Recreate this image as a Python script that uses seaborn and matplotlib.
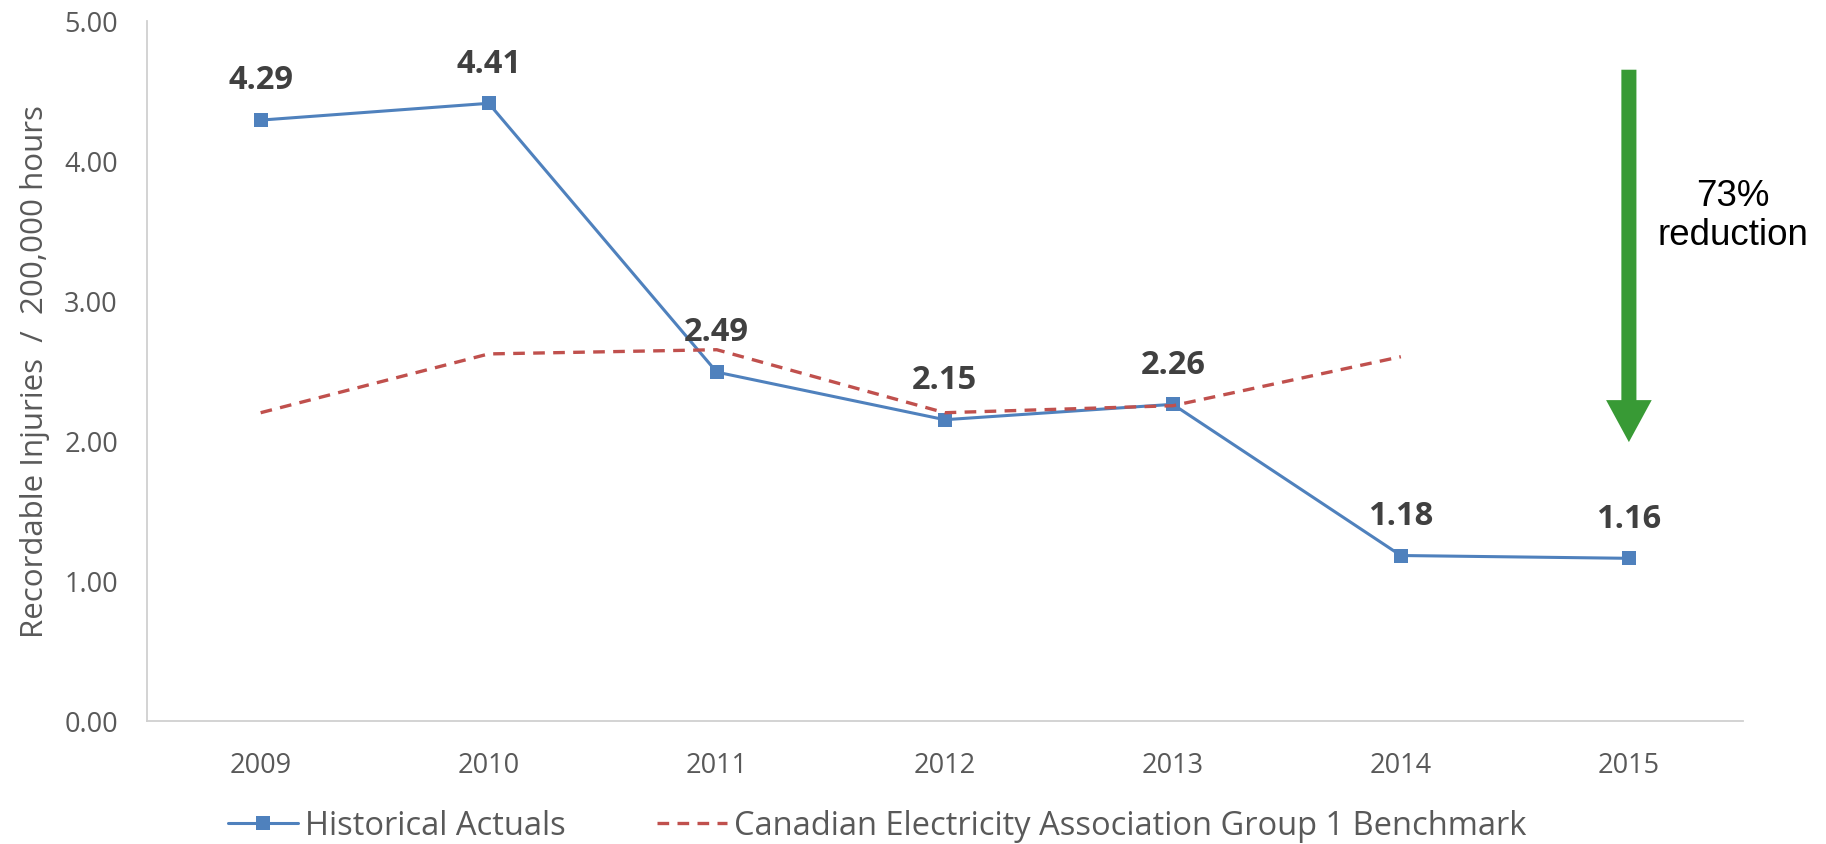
import numpy as np
import pandas as pd
import seaborn as sns
import matplotlib.pyplot as plt

years = ["2009", "2010", "2011", "2012", "2013", "2014", "2015"]
actuals = [4.29, 4.41, 2.49, 2.15, 2.26, 1.18, 1.16]
benchmark = [2.20, 2.62, 2.65, 2.20, 2.25, 2.60, np.nan]
y_ticks = [0, 1, 2, 3, 4, 5]
actual_label = "Historical Actuals"
bench_label = "Canadian Electricity Association Group 1 Benchmark"
y_title = "Recordable Injuries  /  200,000 hours"
reduction_text = "73%\nreduction"
arrow_from, arrow_to = 4.65, 1.99

sns.set_theme(style="white")
plt.rcParams["font.family"] = ["Open Sans", "DejaVu Sans"]

df = pd.DataFrame({"pos": np.arange(len(years)), "year": years,
                   "actual": actuals, "bench": benchmark})

fig = plt.figure(figsize=(18.26, 8.45), dpi=100)
ax = fig.add_axes([0.0803, 0.1459, 0.8742, 0.8284])

sns.lineplot(data=df, x="pos", y="actual", ax=ax, color="#4F81BD", linewidth=2.2,
             marker="s", markersize=10, markeredgewidth=0, label=actual_label, zorder=3)
sns.lineplot(data=df.dropna(), x="pos", y="bench", ax=ax, color="#C0504D", linewidth=2.4,
             linestyle=(0, (3.5, 2.5)), label=bench_label, zorder=4)

# data labels above the actuals
for p, v in zip(df["pos"], df["actual"]):
    ax.annotate("{:.2f}".format(v), xy=(p, v), xytext=(0, 29), textcoords="offset points",
                ha="center", va="center", fontsize=23.5, fontweight="bold", color="#404040", zorder=6)

# green reduction arrow
last = df["pos"].iloc[-1]
ax.arrow(last, arrow_from, 0, arrow_to - arrow_from, width=0.066, head_width=0.2,
         head_length=0.30, length_includes_head=True, color="#389A35", lw=0, zorder=5)
ax.text(last + 0.455, (arrow_from + arrow_to) / 2 + 0.29, reduction_text, ha="center", va="center",
        fontsize=26.5, family="Liberation Sans", color="black", linespacing=1.15, clip_on=False)

ax.set_xlim(-0.5, len(years) - 0.5)
ax.set_ylim(0, 5)
ax.set_xticks(df["pos"], labels=df["year"])
ax.set_xticks(np.arange(-0.5, len(years), 1), minor=True)
ax.set_yticks(y_ticks, labels=["{:.2f}".format(t) for t in y_ticks])
ax.set_xlabel("")
ax.set_ylabel(y_title, fontsize=22.5, color="#595959")
ax.yaxis.set_label_coords(-0.0605, 0.5)

ax.tick_params(axis="x", which="major", length=0, pad=21.5, labelsize=19.5, labelcolor="#595959")
ax.tick_params(axis="x", which="minor", direction="out", length=6.5, width=1, color="#D0D0D0")
ax.tick_params(axis="y", direction="inout", length=14.4, width=1, color="#D0D0D0",
               pad=13.5, labelsize=19.5, labelcolor="#595959")

for side in ["top", "right"]:
    ax.spines[side].set_visible(False)
for side in ["left", "bottom"]:
    ax.spines[side].set_color("#D0D0D0")
    ax.spines[side].set_linewidth(1.3)

handles, labels = ax.get_legend_handles_labels()
ax.get_legend().remove()
leg = fig.legend(handles, labels, loc="center", bbox_to_anchor=(877 / 1826, 1 - 827 / 845),
                 ncol=2, frameon=False, fontsize=23.5, handlelength=2.15, columnspacing=2.8,
                 handletextpad=0.2, labelcolor="#595959", borderpad=0.1)

fig.savefig("out.png", dpi=100)
